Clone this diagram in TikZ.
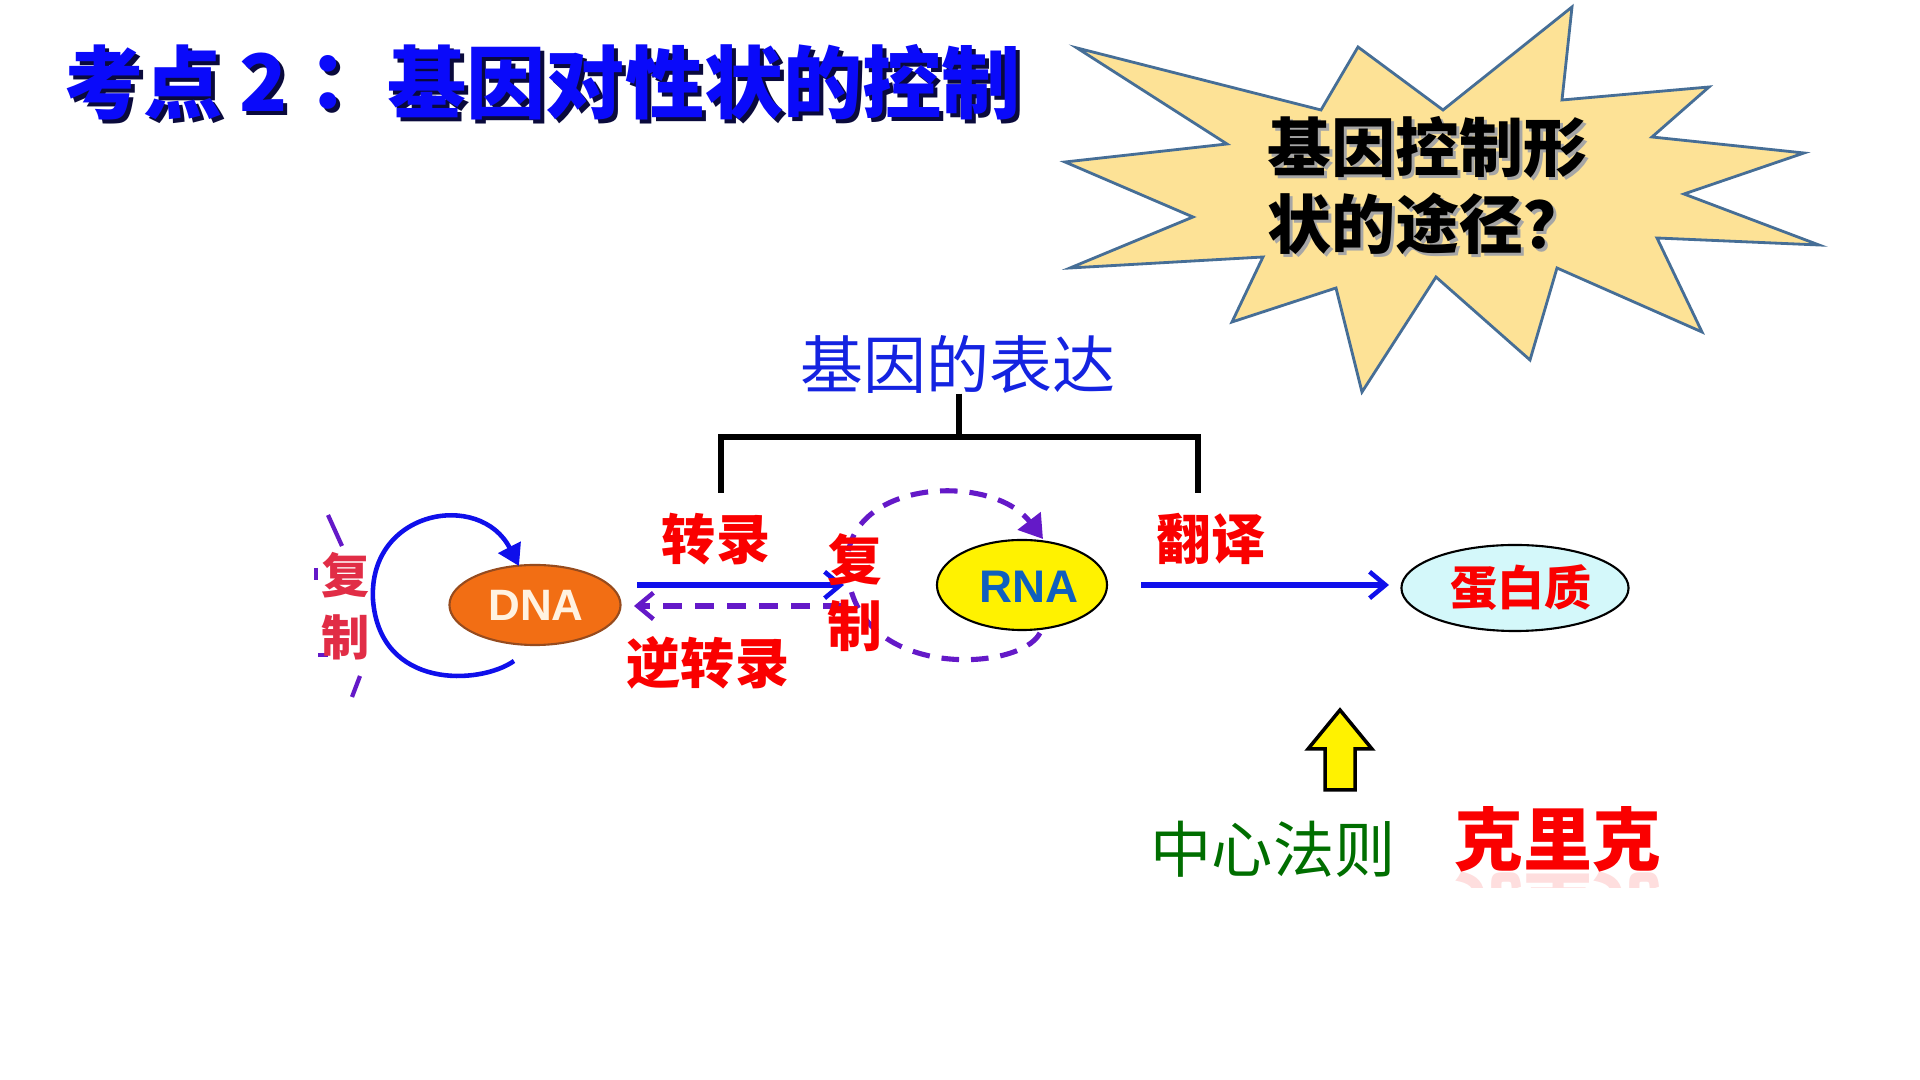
\documentclass[tikz,border=0pt]{standalone}
\usepackage{fontspec}
\setmainfont{Liberation Sans}
\newfontfamily\cjk{Noto Sans CJK SC}
\usetikzlibrary{arrows.meta,shapes.geometric}
\definecolor{titleblue}{RGB}{10,10,250}
\definecolor{shadownavy}{RGB}{10,10,60}
\definecolor{exprblue}{RGB}{20,35,225}
\definecolor{lblred}{RGB}{250,0,0}
\definecolor{arrblue}{RGB}{15,15,235}
\definecolor{purp}{RGB}{100,25,200}
\definecolor{dnaorange}{RGB}{242,110,20}
\definecolor{dnaborder}{RGB}{150,75,30}
\definecolor{dnatext}{RGB}{255,242,225}
\definecolor{rnatext}{RGB}{15,95,190}
\definecolor{protfill}{RGB}{212,248,250}
\definecolor{starfill}{RGB}{253,226,150}
\definecolor{starline}{RGB}{70,110,150}
\definecolor{cgreen}{RGB}{0,110,0}
\definecolor{leftred}{RGB}{225,45,70}
\tikzset{
  ttl/.style={font=\cjk\bfseries\fontsize{22.5pt}{24pt}\selectfont, text=titleblue, inner sep=0pt},
  ttlsh/.style={ttl, text=shadownavy},
  startxt/.style={font=\cjk\bfseries\fontsize{18.2pt}{20pt}\selectfont, text=black, inner sep=0pt, anchor=west},
  starsh/.style={startxt, text=black!35},
  lbl/.style={font=\cjk\bfseries\fontsize{15.4pt}{17pt}\selectfont, text=lblred, inner sep=0pt},
  flow/.style={draw=arrblue, line width=1.45pt, -{Straight Barb[length=4.5pt, width=7.5pt, line width=1.3pt]}},
  revflow/.style={draw=purp, line width=1.45pt, dash pattern=on 5.5pt off 3.6pt, -{Straight Barb[length=4.5pt, width=7.5pt, line width=1.3pt]}},
  loopline/.style={draw=purp, line width=1.45pt, dash pattern=on 5pt off 3.4pt, -{Triangle[length=6.5pt, width=8pt]}},
  brk/.style={draw=black, line width=1.5pt},
  molecule/.style={ellipse, draw=black, line width=0.6pt, inner sep=0pt},
}
\begin{document}
\begin{tikzpicture}[x=0.01cm, y=-0.01cm]
\useasboundingbox[fill=white] (0,0) rectangle (1920,1080);

% ---------- title ----------
\node[ttlsh, anchor=west] (t1s) at (68,86) {考点};
\node[ttlsh] (t2s) at (268,86) {2};
\node[ttlsh] (t3s) at (352,86) {：};
\node[ttlsh, anchor=west] (t4s) at (391,86) {基因对性状的控制};
\node[ttl, anchor=west] (t1) at (64,82) {考点};
\node[ttl] (t2) at (264,82) {2};
\node[ttl] (t3) at (348,82) {：};
\node[ttl, anchor=west] (t4) at (387,82) {基因对性状的控制};

% ---------- star ----------
\draw[fill=starfill, draw=starline, line width=0.8pt, line join=miter]
 (1077,48) -- (1321,110) -- (1358,47) -- (1443,110) -- (1572,7) -- (1562,100)
 -- (1709,87) -- (1652,137) -- (1804,153) -- (1684,194) -- (1819,245)
 -- (1657,238) -- (1702,332) -- (1557,268) -- (1530,360) -- (1436,277)
 -- (1362,392) -- (1336,288) -- (1232,322) -- (1263,257) -- (1070,268)
 -- (1193,217) -- (1065,162) -- (1227,144) -- cycle;
\node[starsh] (q1s) at (1270,150) {基因控制形};
\node[starsh] (q2s) at (1270,227) {状的途径？};
\node[startxt] (q1) at (1267,147) {基因控制形};
\node[startxt] (q2) at (1267,224) {状的途径？};

% ---------- gene expression bracket ----------
\node[font=\cjk\fontsize{17.9pt}{19pt}\selectfont, text=exprblue, inner sep=0pt] (expr) at (958,364) {基因的表达};
\coordinate (bl) at (721,493);
\coordinate (br) at (1198,493);
\coordinate (bc) at (959,437);
\draw[brk] (expr.south -| bc) -- (bc);
\draw[brk] (bl) |- (bc) -| (br);

% ---------- molecules ----------
\node[molecule, fill=dnaorange, draw=dnaborder, minimum width=1.71cm, minimum height=0.8cm] (dna) at (535,605) {};
\node[font=\bfseries\fontsize{12.5pt}{14pt}\selectfont, text=dnatext] (dnat) at (536,605) {DNA};
\node[molecule, fill=yellow, minimum width=1.70cm, minimum height=0.90cm] (rna) at (1022,585) {};
\node[font=\bfseries\fontsize{13pt}{14pt}\selectfont, text=rnatext] (rnat) at (1029,587) {RNA};
\node[molecule, fill=protfill, minimum width=2.27cm, minimum height=0.86cm] (prot) at (1515,588) {};
\node[font=\cjk\bfseries\fontsize{13.4pt}{15pt}\selectfont, text=lblred] (prott) at (1521,588) {蛋白质};

% ---------- DNA replication loop ----------
\coordinate (repS) at (514,661);
\coordinate (repL) at (373,600);
\coordinate (repE) at (519,566);
\draw[draw=arrblue, line width=1.3pt, -{Triangle[length=6pt, width=7pt]}]
  (repS) .. controls (480,685) and (380,690) .. (repL)
  .. controls (368,510) and (480,490) .. (repE);
% cut dashed ring around left label
\coordinate (dA1) at (328,515); \coordinate (dA2) at (342,546);
\coordinate (dB1) at (360,676); \coordinate (dB2) at (352,697);
\coordinate (dC1) at (316,568); \coordinate (dC2) at (316,580);
\coordinate (dD1) at (318,655); \coordinate (dD2) at (328,655);
\draw[purp, line width=1.2pt] (dA1) -- (dA2);
\draw[purp, line width=1.2pt] (dB1) -- (dB2);
\draw[purp, line width=1pt] (dC1) -- (dC2);
\draw[purp, line width=1pt] (dD1) -- (dD2);
\node[font=\cjk\bfseries\fontsize{13.7pt}{15pt}\selectfont, text=leftred, inner sep=0pt] (lf1) at (346,575) {复};
\node[font=\cjk\bfseries\fontsize{13.7pt}{15pt}\selectfont, text=leftred, inner sep=0pt] (lf2) at (346,637) {制};

% ---------- transcription arrows ----------
\coordinate (tA) at (637,585); \coordinate (tB) at (844,585);
\coordinate (rA) at (842,606); \coordinate (rB) at (634,606);
\draw[flow] (tA) -- (tB);
\draw[revflow] (rA) -- (rB);
\node[lbl] (zl) at (716,539) {转录};
\node[lbl] (nzl) at (708,663) {逆转录};

% ---------- RNA replication loop ----------
\coordinate (rrS) at (1040,633);
\coordinate (rrL) at (848,575);
\coordinate (rrE) at (1043,539);
\draw[loopline]
  (rrS) .. controls (1020,672) and (860,680) .. (rrL)
  .. controls (835,480) and (990,470) .. (rrE);
\node[font=\cjk\bfseries\fontsize{15.6pt}{17pt}\selectfont, text=lblred, inner sep=0pt] (mf1) at (855,560) {复};
\node[font=\cjk\bfseries\fontsize{15.6pt}{17pt}\selectfont, text=lblred, inner sep=0pt] (mf2) at (855,626) {制};

% ---------- translation ----------
\coordinate (fA) at (1141,585); \coordinate (fB) at (1389,585);
\draw[flow] (fA) -- (fB);
\node[lbl] (fy) at (1211,539) {翻译};

% ---------- central dogma ----------
\draw[fill=yellow, draw=black, line width=1pt, line join=miter] (1325,790) -- (1325,749) -- (1308,749) -- (1340,710) -- (1372,749) -- (1355,749) -- (1355,790) -- cycle;
\node[font=\cjk\fontsize{17.4pt}{19pt}\selectfont, text=cgreen, inner sep=0pt] (cd) at (1273,849) {中心法则};
\node[font=\cjk\bfseries\fontsize{19.6pt}{21pt}\selectfont, text=lblred, inner sep=0pt] (crick) at (1558,839) {克里克};
\begin{scope}
  \clip (1440,868) rectangle (1680,888);
  \node[font=\cjk\bfseries\fontsize{19.6pt}{21pt}\selectfont, text=lblred, inner sep=0pt, yscale=-1, opacity=0.13] (crickr) at (1558,905) {克里克};
\end{scope}
\end{tikzpicture}
\end{document}
